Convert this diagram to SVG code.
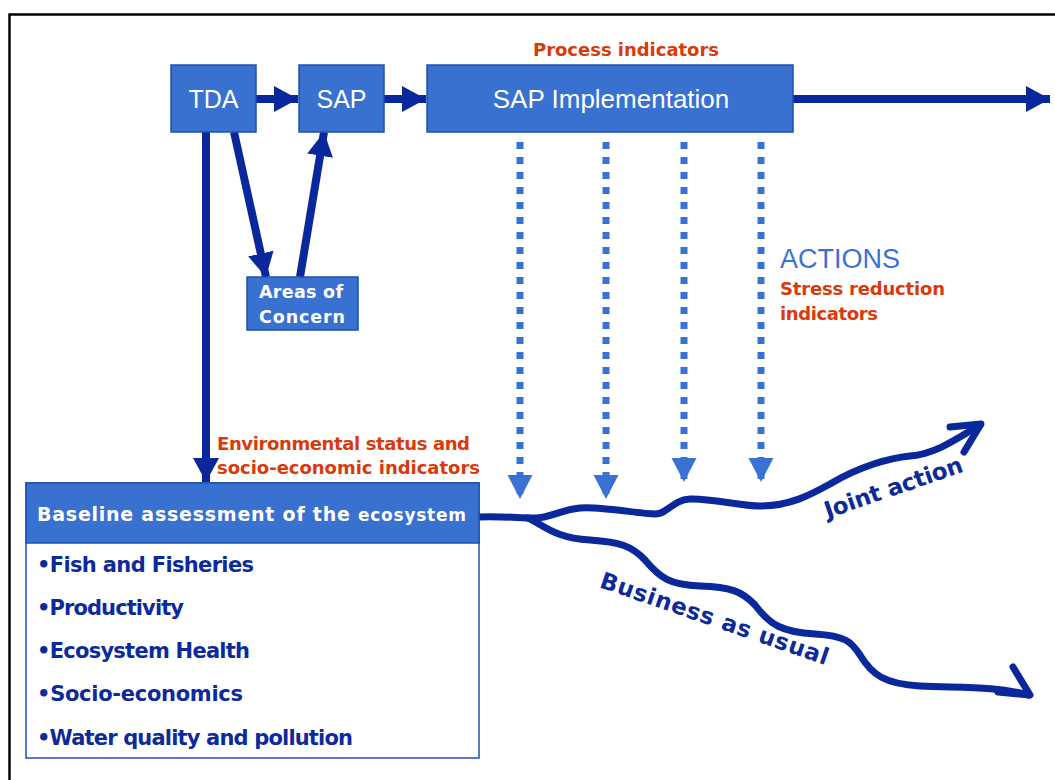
<svg xmlns="http://www.w3.org/2000/svg" width="1055" height="780" viewBox="0 0 1055 780">
<defs>
<style>
.box{fill:#3871d0;stroke:#1f4fb0;stroke-width:1.5}
.wt{fill:#ffffff;font-family:"Liberation Sans",Arial,sans-serif}
.wb{fill:#ffffff;font-family:"DejaVu Sans",Verdana,sans-serif;font-weight:bold}
.red{fill:#d93a0b;font-family:"DejaVu Sans",Verdana,sans-serif;font-weight:bold}
.navy{fill:#0d2a9c;font-family:"DejaVu Sans",Verdana,sans-serif;font-weight:bold}
.arr{stroke:#0a279c;stroke-width:8;fill:none}
.dot{stroke:#3a72d4;stroke-width:7;stroke-dasharray:7 8;fill:none}
.wave{stroke:#0a279c;stroke-width:7;fill:none;stroke-linecap:round;stroke-linejoin:round}
</style>
<marker id="h" markerUnits="userSpaceOnUse" markerWidth="26" markerHeight="28" refX="24" refY="14" orient="auto">
<path d="M0,1 L24,14 L0,27 Z" fill="#0a279c"/>
</marker>
<marker id="hd" markerUnits="userSpaceOnUse" markerWidth="26" markerHeight="28" refX="24" refY="14" orient="auto">
<path d="M0,1.5 L24,14 L0,26.5 Z" fill="#3a72d4"/>
</marker>
</defs>
<rect width="1055" height="780" fill="#ffffff"/>
<path d="M9.5,780 L9.5,14.5 L1055,14.5" stroke="#000" stroke-width="2.5" fill="none"/>

<g id="connectors">
<line class="arr" x1="256" y1="99" x2="298" y2="99" marker-end="url(#h)"/>
<line class="arr" x1="384" y1="99" x2="426" y2="99" marker-end="url(#h)"/>
<line class="arr" x1="793" y1="99" x2="1050" y2="99" marker-end="url(#h)"/>
<line class="arr" x1="206" y1="132" x2="206" y2="482" marker-end="url(#h)"/>
<line class="arr" x1="234" y1="132" x2="266" y2="277" marker-end="url(#h)"/>
<line class="arr" x1="300" y1="277" x2="324" y2="132" marker-end="url(#h)"/>
<line class="dot" x1="520" y1="142" x2="520" y2="499" marker-end="url(#hd)"/>
<line class="dot" x1="606" y1="142" x2="606" y2="499" marker-end="url(#hd)"/>
<line class="dot" x1="684" y1="142" x2="684" y2="482" marker-end="url(#hd)"/>
<line class="dot" x1="761" y1="142" x2="761" y2="482" marker-end="url(#hd)"/>
<path class="wave" d="M479,517 C500,516 520,518 535,518 C550,518 560,510 580,508 C600,506 640,514 655,514 C668,514 672,500 690,499 C710,498 740,506 760,506 C790,506 810,495 830,484 C860,466 890,458 910,456 C935,454 955,440 980,425"/>
<path class="wave" d="M950,427 L981,424 L964,452"/>
<path class="wave" d="M528,518 C545,526 555,538 590,540 C620,542 632,546 645,560 C660,578 670,585 700,586 C730,587 742,591 755,605 C770,625 782,632 815,634 C845,636 851,641 860,655 C872,675 885,684 920,686 C960,688 995,686 1029,695"/>
<path class="wave" d="M1013,667 L1030,695 L998,692"/>
</g>

<g id="tda">
<rect class="box" x="171" y="65" width="85" height="67"/>
<text class="wt" x="213.5" y="108" font-size="25" text-anchor="middle">TDA</text>
</g>
<g id="sap">
<rect class="box" x="299" y="65" width="85" height="67"/>
<text class="wt" x="341.5" y="108" font-size="25" text-anchor="middle">SAP</text>
</g>
<g id="sap-implementation">
<rect class="box" x="427" y="65" width="366" height="67"/>
<text class="wt" x="611" y="108" font-size="26" text-anchor="middle">SAP Implementation</text>
</g>
<g id="areas-of-concern">
<rect class="box" x="247" y="277" width="111" height="53"/>
<text class="wb" x="259" y="298" font-size="17.5" textLength="84">Areas of</text>
<text class="wb" x="259" y="323" font-size="17.5" textLength="86">Concern</text>
</g>
<g id="baseline">
<rect x="26" y="483" width="453" height="275" fill="#ffffff" stroke="#1f4fb0" stroke-width="1.5"/>
<rect class="box" x="26" y="483" width="453" height="60"/>
<text class="wb" x="37" y="521" font-size="19" textLength="429">Baseline assessment of the <tspan font-size="17">ecosystem</tspan></text>
<text class="navy" x="37" y="572" font-size="21" textLength="217">•Fish and Fisheries</text>
<text class="navy" x="37" y="615" font-size="21" textLength="147">•Productivity</text>
<text class="navy" x="37" y="658" font-size="21" textLength="213">•Ecosystem Health</text>
<text class="navy" x="37" y="701" font-size="21" textLength="206">•Socio-economics</text>
<text class="navy" x="37" y="745" font-size="21" textLength="316">•Water quality and pollution</text>
</g>
<g id="labels">
<text class="red" x="533" y="56" font-size="18" textLength="186">Process indicators</text>
<text class="red" x="217" y="450" font-size="18" textLength="253">Environmental status and</text>
<text class="red" x="217" y="474" font-size="18" textLength="263">socio-economic indicators</text>
<text x="780" y="268" font-size="27" fill="#3a72d4" font-family="Liberation Sans, Arial, sans-serif">ACTIONS</text>
<text class="red" x="780" y="295" font-size="18" textLength="165">Stress reduction</text>
<text class="red" x="780" y="320" font-size="18" textLength="98">indicators</text>
<text class="navy" font-size="23" text-anchor="middle" transform="translate(896,495) rotate(-19)" textLength="145">Joint action</text>
<text class="navy" font-size="23" text-anchor="middle" transform="translate(712,626) rotate(19)" textLength="240">Business as usual</text>
</g>
</svg>
